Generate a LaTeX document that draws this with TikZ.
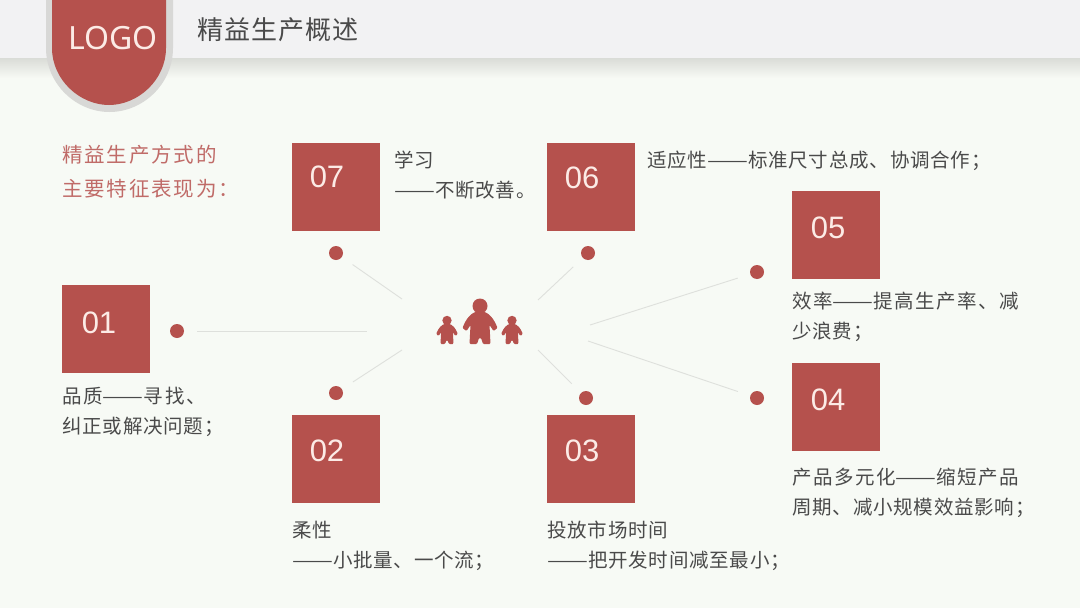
\documentclass[tikz,border=0pt]{standalone}
\usepackage{fontspec}
\usetikzlibrary{calc}
\setmainfont{Noto Sans CJK SC}
\newfontfamily\cjktext[LetterSpace=4]{Noto Sans CJK SC}
\newfontfamily\cjkfit[LetterSpace=7.5]{Noto Sans CJK SC}
\newfontfamily\cjkwide[LetterSpace=9]{Noto Sans CJK SC}
\newfontfamily\numfont{Liberation Sans}
\newfontfamily\logofont{Noto Sans}
\newcommand\longdash{\scalebox{1.25}[1]{——}}
\definecolor{brick}{HTML}{B5514D}
\definecolor{paper}{HTML}{F7FAF5}
\definecolor{band}{HTML}{F2F2F3}
\definecolor{halo}{HTML}{D8D8D6}
\definecolor{shadow}{HTML}{DADCD7}
\definecolor{ink}{HTML}{4A4A4A}
\definecolor{spokeline}{HTML}{DEE0DC}
\definecolor{pale}{HTML}{FCEBE6}

\begin{document}
\begin{tikzpicture}[x=1pt, y=-1pt,
  boxnum/.style={fill=brick, minimum size=88pt, inner sep=0pt},
  num/.style={font=\numfont\fontsize{31}{31}\selectfont, text=pale, inner sep=0pt},
  spot/.style={circle, fill=brick, minimum size=14pt, inner sep=0pt},
  spoke/.style={spokeline, line width=0.9pt},
  captext/.style={font=\cjktext\fontsize{19.5}{29.5}\selectfont, text=ink, align=left,
              anchor=north west, inner sep=0pt},
  pics/person/.style={code={
    \fill[brick] (0,-38) circle[radius=7.5];
    \fill[brick, rounded corners=1pt] (-10.5,0) -- (-9.5,-19) -- (-13.5,-13) -- (-17.5,-16)
      .. controls (-14,-25) and (-9,-32) .. (0,-33) .. controls (9,-32) and (14,-25) .. (17.5,-16)
      -- (13.5,-13) -- (9.5,-19) -- (10.5,0) -- (3,0) -- (1,-6) -- (-1,-6) -- (-3,0) -- cycle;
  }}]
\useasboundingbox (0,0) rectangle (1080,608);

% background and header
\fill[paper] (0,0) rectangle (1080,608);
\shade[top color=shadow, bottom color=paper] (0,58) rectangle (1080,78);
\fill[band] (0,0) rectangle (1080,58);
\fill[halo] (46,0) -- (46,48) .. controls (46,84) and (76,112) .. (109.5,112)
  .. controls (143,112) and (173,84) .. (173,48) -- (173,0) -- cycle;
\fill[brick] (52,0) -- (52,48) .. controls (52,80) and (80,105) .. (109,105)
  .. controls (138,105) and (166,80) .. (166,48) -- (166,0) -- cycle;
\node[font=\logofont\fontsize{32}{32}\selectfont, text=pale, inner sep=0pt] (logo) at (113,38) {LOGO};
\node[font=\cjktext\fontsize{26}{30}\selectfont, text=ink, anchor=west, inner sep=0pt] (title) at (197,30) {精益生产概述};

% intro
\node[font=\cjkwide\fontsize{20.5}{34}\selectfont, text=brick!85!white, align=left, anchor=north west, inner sep=0pt] (intro) at (62,145)
  {精益生产方式的\\主要特征表现为：};

% boxes
\foreach \name/\x/\y/\tx/\ty in {07/336/187/327/177, 06/590.5/187/582/178, 05/836/235/828/228,
    01/106/329/99/323, 02/336/459/327/451, 03/590.5/459/582/451, 04/836/407/828/400}{
  \node[boxnum] (box\name) at (\x,\y) {};
  \node[num] (num\name) at (\tx,\ty) {\name};
}

% dots and free ends
\foreach \name/\x/\y/\u/\v in {07/336/253/402/299, 06/588/253/538/300, 05/757/272/590/325,
    01/177/331/367/331, 02/336/393/402/350, 03/586/398/538/350, 04/757/398/588/341}{
  \node[spot] (dot\name) at (\x,\y) {};
  \coordinate (end\name) at (\u,\v);
  \draw[spoke, shorten <=13pt] (dot\name) -- (end\name);
}

% people
\pic at (480,344) {person};
\pic[scale=0.62] at (447,344) {person};
\pic[scale=0.62] at (512,344) {person};

% captions
\node[captext] (cap07) at (394,151) {学习\\\longdash 不断改善。};
\node[captext] (cap06) at (647,151) {适应性\longdash 标准尺寸总成、协调合作；};
\node[captext] (cap05) at (792,292) {{\cjkfit 效率\longdash 提高生产率、减}\\少浪费；};
\node[captext] (cap01) at (62,387) {{\cjkwide 品质\longdash 寻找、}\\纠正或解决问题；};
\node[captext] (cap02) at (292,521) {柔性\\\longdash 小批量、一个流；};
\node[captext] (cap03) at (547,521) {投放市场时间\\\longdash 把开发时间减至最小；};
\node[captext] (cap04) at (792,468) {{\cjkfit 产品多元化\longdash 缩短产品}\\周期、减小规模效益影响；};

\end{tikzpicture}
\end{document}
